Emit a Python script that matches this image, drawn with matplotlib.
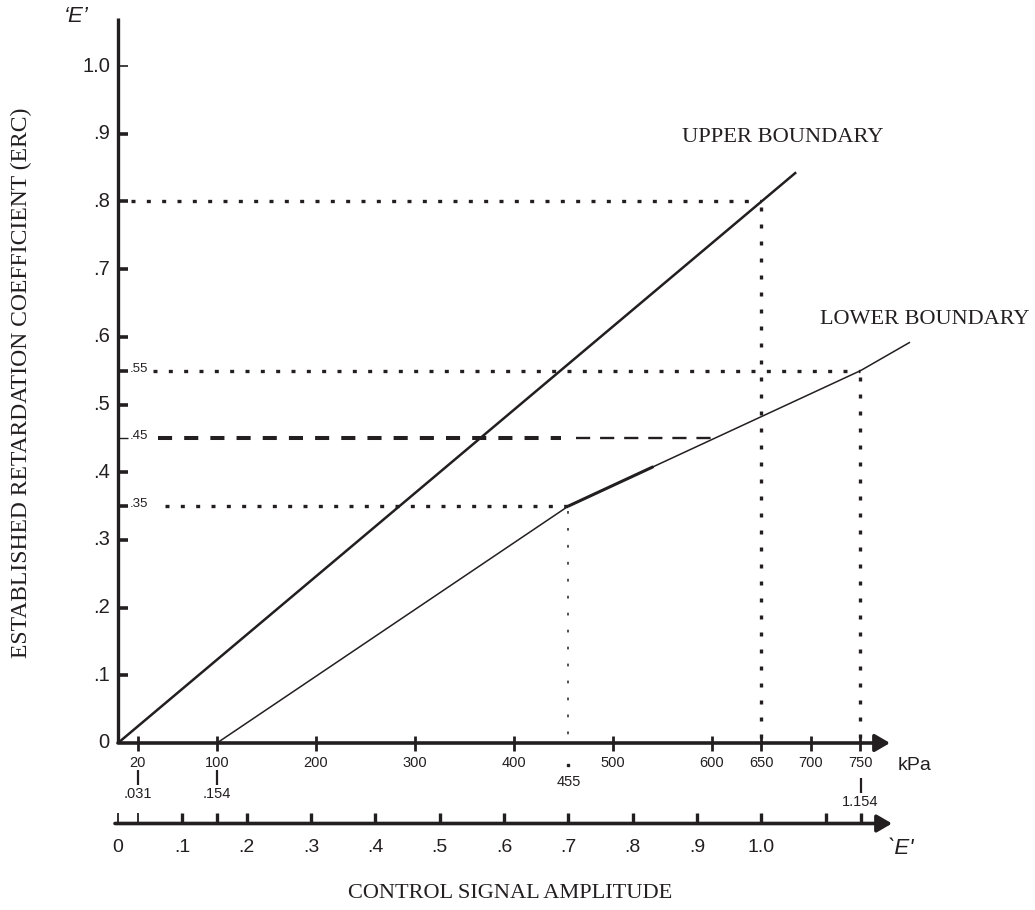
import numpy as np
import matplotlib.pyplot as plt

# values
upper_kpa = [0, 685]
upper_erc = [0.0, 0.843]
lower_kpa = [100, 455, 750, 800]
lower_erc = [0.0, 0.35, 0.55, 0.592]

erc_ticks = [0.1, 0.2, 0.3, 0.4, 0.5, 0.6, 0.7, 0.8, 0.9, 1.0]
erc_labels = ['.1', '.2', '.3', '.4', '.5', '.6', '.7', '.8', '.9', '1.0']
erc_marks = [0.35, 0.45, 0.55]
erc_mark_labels = ['.35', '.45', '.55']

kpa_ticks = [20, 100, 200, 300, 400, 500, 600, 650, 700, 750]
kpa_labels = ['20', '100', '200', '300', '400', '500', '600', '650', '700', '750']
kpa_kink = 455

kpa_per_e = 650   # 'E' = 1.0 at 650 kPa
e_ticks = [0, 0.1, 0.2, 0.3, 0.4, 0.5, 0.6, 0.7, 0.8, 0.9, 1.0]
e_labels = ['0', '.1', '.2', '.3', '.4', '.5', '.6', '.7', '.8', '.9', '1.0']
e_extra = [0.031, 0.154, 1.1, 1.154]
e_extra_labels = ['.031', '.154', '', '1.154']

guide_erc = [0.8, 0.55, 0.35]
guide_kpa = [650, 750, 455]
dash_erc = 0.45

# ------------------------------------------------------------------
W, H = 1035, 910
X0, SX = 118, 0.99     # pixel of 0 kPa, pixels per kPa
Y0, SY = 743, 677      # pixel of ERC 0, pixels per ERC unit


def dx(px):
    return (px - X0) / SX


def dy(py):
    return (Y0 - py) / SY


INK = '#231f20'
SANS = 'Liberation Sans'
SERIF = 'Liberation Serif'

fig = plt.figure(figsize=(W / 100, H / 100), dpi=100)
ax = fig.add_axes([0, 0, 1, 1])
ax.set_xlim(dx(0), dx(W))
ax.set_ylim(dy(H), dy(0))
ax.axis('off')

# axes
ax.plot([0, 0], [0, dy(18)], color=INK, lw=2.4, solid_capstyle='butt')
arrow = dict(arrowstyle='-|>,head_length=0.6,head_width=0.35', color=INK,
             lw=2.6, shrinkA=0, shrinkB=0, mutation_scale=15)
ax.annotate('', xy=(dx(890), 0), xytext=(0, 0), arrowprops=arrow)
e_y = dy(823.5)
ax.annotate('', xy=(dx(892), e_y), xytext=(dx(115), e_y), arrowprops=arrow)

# y ticks
for v, lab in zip(erc_ticks, erc_labels):
    ax.plot([0, dx(128)], [v, v], color=INK, lw=1.2 if v == 1.0 else 2.6,
            solid_capstyle='butt')
    ax.text(dx(110), v, lab, ha='right', va='center', fontsize=14.5,
            family=SANS, color=INK)
ax.text(dx(109), 0, '0', ha='right', va='center', fontsize=14.5,
        family=SANS, color=INK)
for v, lab in zip(erc_marks, erc_mark_labels):
    ax.plot([0, dx(128)], [v, v], color=INK, lw=1.0 if v == dash_erc else 2.6,
            solid_capstyle='butt')
    ax.text(dx(130), v + 2 / SY, lab, ha='left', va='center', fontsize=9.5,
            family=SANS, color=INK)

# kPa ticks
for k, lab in zip(kpa_ticks, kpa_labels):
    ax.plot([k, k], [dy(751), dy(736)], color=INK, lw=2.0, solid_capstyle='butt')
    ax.text(k, dy(763), lab, ha='center', va='center', fontsize=10.5,
            family=SANS, color=INK)
ax.text(dx(898), dy(766), 'kPa', ha='left', va='center', fontsize=14,
        family=SANS, color=INK)
ax.plot([kpa_kink], [dy(765)], 's', ms=1.5, color=INK)
ax.text(kpa_kink, dy(782), str(kpa_kink), ha='center', va='center',
        fontsize=10.5, family=SANS, color=INK)

# 'E' ticks
for e in e_ticks + e_extra:
    ax.plot([e * kpa_per_e] * 2, [e_y, dy(813)], color=INK,
            lw=1.3 if e in (0, 0.031) else 2.4, solid_capstyle='butt')
for e, lab in zip(e_ticks, e_labels):
    ax.text(e * kpa_per_e, dy(847), lab, ha='center', va='center', fontsize=14,
            family=SANS, color=INK)
for e, lab in zip(e_extra, e_extra_labels):
    if not lab:
        continue
    x = e * kpa_per_e
    top = 778 if e > 1 else 770
    ax.plot([x, x], [dy(top), dy(top + 15)], color=INK, lw=1.6,
            solid_capstyle='butt')
    ax.text(x, dy(top + 24), lab, ha='center', va='center', fontsize=10.5,
            family=SANS, color=INK)

# boundaries
ax.plot(upper_kpa, upper_erc, color=INK, lw=1.8, solid_capstyle='butt')
ax.plot(lower_kpa, lower_erc, color=INK, lw=1.1, solid_capstyle='butt')
thick_end = 540
ax.plot([lower_kpa[1], thick_end],
        [lower_erc[1], np.interp(thick_end, lower_kpa, lower_erc)],
        color=INK, lw=2.2, solid_capstyle='round')

# dotted guides
starts = [dx(131), dx(153), dx(165)]
for v, k, x0 in zip(guide_erc, guide_kpa, starts):
    ax.plot([x0, k], [v, v], color=INK, lw=2.4, ls=(0, (1.2, 3.4)))
    if k == kpa_kink:
        ax.plot([k, k], [v - 5 / SY, 0], color=INK, lw=1.1, ls=(0, (1.8, 9.3)))
    else:
        ax.plot([k, k], [v - 6 / SY, 0], color=INK, lw=2.4, ls=(0, (1.2, 3.9)))

# .45 dashed guide
ax.plot([dx(158), dx(561)], [dash_erc] * 2, color=INK, lw=2.9,
        ls=(0, (3.5, 3.0)))
x_cross = np.interp(dash_erc, lower_erc, lower_kpa)
ax.plot([dx(576), x_cross], [dash_erc] * 2, color=INK, lw=1.7,
        ls=(0, (6.0, 4.2)))

# labels
ax.text(dx(682), dy(137), 'UPPER BOUNDARY', ha='left', va='center',
        fontsize=16.2, family=SERIF, color=INK)
ax.text(dx(820), dy(320), 'LOWER BOUNDARY', ha='left', va='center',
        fontsize=16, family=SERIF, color=INK)
ax.text(dx(510), dy(893), 'CONTROL SIGNAL AMPLITUDE', ha='center', va='center',
        fontsize=16.1, family=SERIF, color=INK)
ax.text(dx(21), dy(383), 'ESTABLISHED RETARDATION COEFFICIENT (ERC)',
        ha='center', va='center', rotation=90, fontsize=17, family=SERIF,
        color=INK)
ax.text(dx(76), dy(17), '\u2018E\u2019', ha='center', va='center', fontsize=16,
        family=SANS, style='italic', color=INK)
ax.text(dx(901), dy(848), "`E'", ha='center', va='center', fontsize=16,
        family=SANS, style='italic', color=INK)

fig.savefig('out.png', dpi=100)
